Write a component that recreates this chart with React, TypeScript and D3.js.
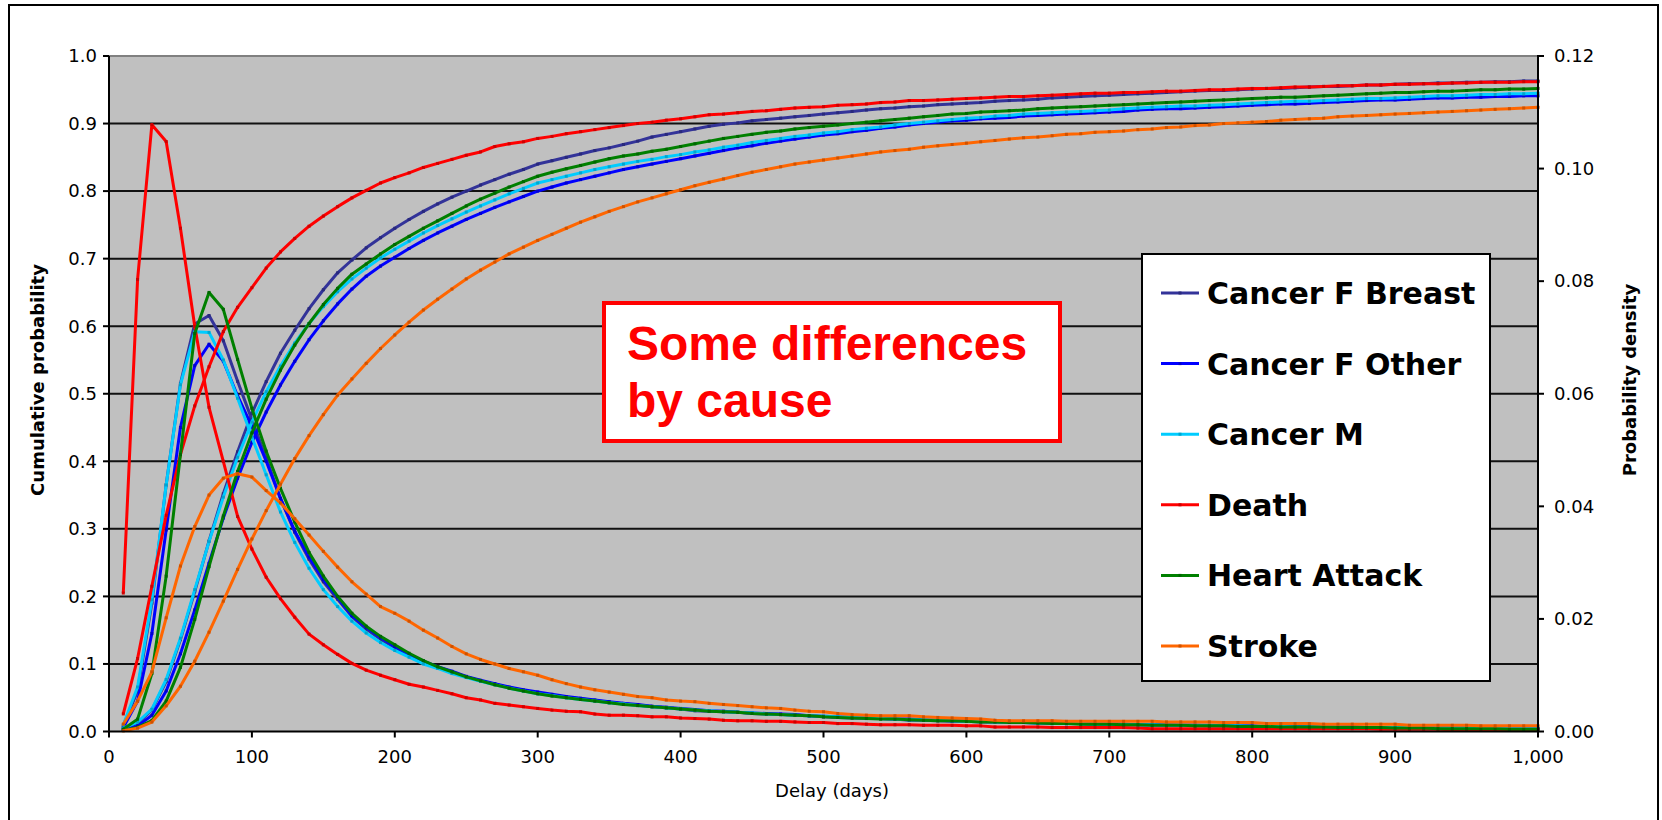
import React from 'react';
import * as d3 from 'd3';

const days = [
  10, 20, 30, 40, 50, 60, 70, 80, 90, 100,
  110, 120, 130, 140, 150, 160, 170, 180, 190, 200,
  210, 220, 230, 240, 250, 260, 270, 280, 290, 300,
  310, 320, 330, 340, 350, 360, 370, 380, 390, 400,
  410, 420, 430, 440, 450, 460, 470, 480, 490, 500,
  510, 520, 530, 540, 550, 560, 570, 580, 590, 600,
  610, 620, 630, 640, 650, 660, 670, 680, 690, 700,
  710, 720, 730, 740, 750, 760, 770, 780, 790, 800,
  810, 820, 830, 840, 850, 860, 870, 880, 890, 900,
  910, 920, 930, 940, 950, 960, 970, 980, 990, 1000,
];

const seriesNames = ['Cancer F Breast', 'Cancer F Other', 'Cancer M', 'Death', 'Heart Attack', 'Stroke'];
const seriesColors = ['#333399', '#0000FF', '#00CCFF', '#FF0000', '#008000', '#FF6600'];

const xTicks = [0, 100, 200, 300, 400, 500, 600, 700, 800, 900, 1000];
const leftTicks = [0, 0.1, 0.2, 0.3, 0.4, 0.5, 0.6, 0.7, 0.8, 0.9, 1.0];
const rightTicks = [0, 0.02, 0.04, 0.06, 0.08, 0.1, 0.12];

// Cumulative probability
const cumBreast = [
  0.004, 0.012, 0.032, 0.074, 0.136, 0.207, 0.282, 0.352, 0.414, 0.471,
  0.518, 0.560, 0.594, 0.626, 0.654, 0.679, 0.698, 0.716, 0.731, 0.745,
  0.758, 0.770, 0.781, 0.791, 0.800, 0.809, 0.817, 0.825, 0.832, 0.840,
  0.845, 0.850, 0.855, 0.860, 0.864, 0.869, 0.874, 0.880, 0.884, 0.888,
  0.892, 0.896, 0.899, 0.901, 0.904, 0.906, 0.908, 0.910, 0.912, 0.914,
  0.916, 0.918, 0.920, 0.922, 0.923, 0.925, 0.926, 0.928, 0.929, 0.930,
  0.931, 0.933, 0.934, 0.935, 0.936, 0.938, 0.939, 0.940, 0.941, 0.942,
  0.943, 0.944, 0.945, 0.946, 0.947, 0.948, 0.949, 0.949, 0.950, 0.951,
  0.952, 0.952, 0.953, 0.954, 0.955, 0.955, 0.956, 0.957, 0.957, 0.958,
  0.959, 0.959, 0.960, 0.960, 0.961, 0.961, 0.962, 0.962, 0.963, 0.963,
];
const cumOther = [
  0.003, 0.008, 0.024, 0.060, 0.115, 0.180, 0.249, 0.316, 0.375, 0.428,
  0.473, 0.513, 0.548, 0.580, 0.608, 0.633, 0.655, 0.674, 0.689, 0.702,
  0.715, 0.727, 0.738, 0.748, 0.758, 0.767, 0.776, 0.784, 0.792, 0.800,
  0.806, 0.812, 0.817, 0.822, 0.827, 0.832, 0.836, 0.840, 0.844, 0.848,
  0.852, 0.856, 0.860, 0.864, 0.867, 0.871, 0.874, 0.877, 0.880, 0.883,
  0.885, 0.888, 0.890, 0.893, 0.895, 0.898, 0.900, 0.902, 0.904, 0.905,
  0.907, 0.908, 0.909, 0.911, 0.912, 0.913, 0.914, 0.915, 0.916, 0.917,
  0.918, 0.920, 0.921, 0.922, 0.922, 0.923, 0.924, 0.925, 0.926, 0.927,
  0.928, 0.929, 0.929, 0.930, 0.931, 0.932, 0.933, 0.934, 0.935, 0.935,
  0.936, 0.937, 0.938, 0.938, 0.939, 0.939, 0.940, 0.940, 0.941, 0.941,
];
const cumM = [
  0.005, 0.014, 0.033, 0.077, 0.138, 0.210, 0.281, 0.347, 0.406, 0.458,
  0.503, 0.541, 0.575, 0.604, 0.629, 0.651, 0.670, 0.686, 0.701, 0.714,
  0.726, 0.738, 0.749, 0.759, 0.769, 0.778, 0.787, 0.796, 0.804, 0.812,
  0.817, 0.822, 0.827, 0.832, 0.836, 0.840, 0.844, 0.847, 0.851, 0.854,
  0.858, 0.861, 0.865, 0.868, 0.872, 0.875, 0.878, 0.881, 0.883, 0.886,
  0.888, 0.891, 0.893, 0.895, 0.898, 0.900, 0.902, 0.904, 0.906, 0.908,
  0.909, 0.911, 0.912, 0.914, 0.915, 0.916, 0.917, 0.918, 0.919, 0.920,
  0.922, 0.923, 0.924, 0.925, 0.926, 0.926, 0.927, 0.928, 0.929, 0.930,
  0.931, 0.932, 0.933, 0.933, 0.934, 0.935, 0.936, 0.937, 0.937, 0.938,
  0.939, 0.940, 0.941, 0.941, 0.942, 0.943, 0.943, 0.944, 0.944, 0.945,
];
const cumDeath = [
  0.026, 0.108, 0.215, 0.320, 0.410, 0.482, 0.540, 0.592, 0.628, 0.657,
  0.686, 0.710, 0.730, 0.748, 0.763, 0.777, 0.790, 0.801, 0.812, 0.820,
  0.827, 0.835, 0.841, 0.847, 0.853, 0.858, 0.866, 0.870, 0.873, 0.878,
  0.881, 0.885, 0.888, 0.891, 0.894, 0.897, 0.900, 0.902, 0.905, 0.907,
  0.910, 0.913, 0.914, 0.916, 0.918, 0.919, 0.921, 0.923, 0.924, 0.925,
  0.927, 0.928, 0.929, 0.931, 0.932, 0.934, 0.934, 0.935, 0.936, 0.937,
  0.938, 0.939, 0.940, 0.940, 0.941, 0.942, 0.943, 0.944, 0.945, 0.945,
  0.946, 0.946, 0.947, 0.948, 0.948, 0.949, 0.950, 0.950, 0.951, 0.952,
  0.952, 0.953, 0.954, 0.954, 0.955, 0.956, 0.956, 0.957, 0.957, 0.958,
  0.958, 0.959, 0.959, 0.960, 0.960, 0.961, 0.961, 0.961, 0.962, 0.962,
];
const cumHeart = [
  0.002, 0.006, 0.016, 0.045, 0.095, 0.166, 0.244, 0.319, 0.385, 0.442,
  0.492, 0.535, 0.572, 0.604, 0.632, 0.656, 0.677, 0.692, 0.707, 0.721,
  0.733, 0.745, 0.756, 0.767, 0.778, 0.788, 0.797, 0.806, 0.814, 0.822,
  0.828, 0.833, 0.838, 0.843, 0.848, 0.852, 0.855, 0.859, 0.862, 0.866,
  0.870, 0.874, 0.878, 0.881, 0.884, 0.887, 0.889, 0.892, 0.894, 0.896,
  0.898, 0.900, 0.902, 0.904, 0.906, 0.908, 0.910, 0.912, 0.914, 0.915,
  0.917, 0.918, 0.919, 0.920, 0.922, 0.923, 0.924, 0.925, 0.926, 0.927,
  0.928, 0.929, 0.930, 0.931, 0.932, 0.933, 0.934, 0.935, 0.936, 0.937,
  0.938, 0.939, 0.939, 0.940, 0.941, 0.942, 0.943, 0.944, 0.945, 0.946,
  0.946, 0.947, 0.948, 0.948, 0.949, 0.950, 0.950, 0.951, 0.951, 0.952,
];
const cumStroke = [
  0.001, 0.005, 0.014, 0.038, 0.067, 0.104, 0.147, 0.193, 0.240, 0.285,
  0.327, 0.366, 0.404, 0.438, 0.469, 0.498, 0.522, 0.545, 0.567, 0.587,
  0.606, 0.624, 0.640, 0.655, 0.670, 0.683, 0.695, 0.707, 0.717, 0.727,
  0.736, 0.745, 0.754, 0.762, 0.770, 0.777, 0.784, 0.790, 0.796, 0.802,
  0.808, 0.813, 0.818, 0.823, 0.828, 0.832, 0.836, 0.840, 0.843, 0.846,
  0.849, 0.852, 0.855, 0.858, 0.860, 0.862, 0.865, 0.867, 0.869, 0.871,
  0.873, 0.875, 0.877, 0.879, 0.880, 0.882, 0.884, 0.885, 0.887, 0.888,
  0.889, 0.891, 0.892, 0.894, 0.895, 0.897, 0.898, 0.900, 0.901, 0.902,
  0.903, 0.905, 0.906, 0.907, 0.908, 0.910, 0.911, 0.912, 0.913, 0.914,
  0.915, 0.916, 0.917, 0.918, 0.919, 0.920, 0.921, 0.922, 0.923, 0.924,
];

// Probability density (right axis)
const denBreast = [
  0.0010, 0.0072, 0.0228, 0.0438, 0.0618, 0.0724, 0.0739, 0.0694, 0.0622, 0.0554,
  0.0486, 0.0414, 0.0354, 0.0306, 0.0266, 0.0235, 0.0204, 0.0182, 0.0164, 0.0149,
  0.0136, 0.0124, 0.0114, 0.0106, 0.0097, 0.0090, 0.0084, 0.0078, 0.0073, 0.0068,
  0.0065, 0.0061, 0.0058, 0.0055, 0.0052, 0.0049, 0.0047, 0.0044, 0.0042, 0.0040,
  0.0037, 0.0036, 0.0035, 0.0034, 0.0032, 0.0031, 0.0030, 0.0029, 0.0028, 0.0026,
  0.0025, 0.0024, 0.0024, 0.0023, 0.0022, 0.0020, 0.0020, 0.0019, 0.0018, 0.0018,
  0.0017, 0.0017, 0.0016, 0.0016, 0.0016, 0.0014, 0.0014, 0.0014, 0.0013, 0.0013,
  0.0013, 0.0012, 0.0012, 0.0012, 0.0011, 0.0011, 0.0011, 0.0010, 0.0010, 0.0010,
  0.0009, 0.0009, 0.0009, 0.0008, 0.0008, 0.0008, 0.0008, 0.0007, 0.0007, 0.0007,
  0.0007, 0.0006, 0.0006, 0.0006, 0.0006, 0.0005, 0.0005, 0.0005, 0.0005, 0.0005,
];
const denOther = [
  0.0007, 0.0054, 0.0174, 0.0358, 0.0540, 0.0650, 0.0688, 0.0658, 0.0596, 0.0542,
  0.0480, 0.0414, 0.0356, 0.0310, 0.0270, 0.0238, 0.0206, 0.0185, 0.0167, 0.0151,
  0.0137, 0.0125, 0.0115, 0.0107, 0.0098, 0.0091, 0.0085, 0.0079, 0.0074, 0.0070,
  0.0066, 0.0062, 0.0059, 0.0056, 0.0053, 0.0050, 0.0048, 0.0045, 0.0043, 0.0041,
  0.0039, 0.0037, 0.0036, 0.0034, 0.0033, 0.0032, 0.0031, 0.0030, 0.0028, 0.0027,
  0.0026, 0.0025, 0.0024, 0.0023, 0.0022, 0.0022, 0.0021, 0.0020, 0.0019, 0.0019,
  0.0018, 0.0017, 0.0017, 0.0016, 0.0015, 0.0015, 0.0014, 0.0014, 0.0013, 0.0013,
  0.0013, 0.0012, 0.0012, 0.0011, 0.0011, 0.0011, 0.0010, 0.0010, 0.0010, 0.0009,
  0.0009, 0.0009, 0.0009, 0.0008, 0.0008, 0.0008, 0.0008, 0.0007, 0.0007, 0.0007,
  0.0007, 0.0006, 0.0006, 0.0006, 0.0006, 0.0005, 0.0005, 0.0005, 0.0005, 0.0005,
];
const denM = [
  0.0012, 0.0079, 0.0234, 0.0438, 0.0616, 0.0710, 0.0709, 0.0660, 0.0592, 0.0523,
  0.0456, 0.0390, 0.0336, 0.0290, 0.0252, 0.0222, 0.0196, 0.0175, 0.0158, 0.0144,
  0.0132, 0.0120, 0.0112, 0.0103, 0.0096, 0.0089, 0.0083, 0.0077, 0.0072, 0.0067,
  0.0064, 0.0060, 0.0057, 0.0054, 0.0051, 0.0049, 0.0046, 0.0044, 0.0042, 0.0040,
  0.0038, 0.0037, 0.0035, 0.0034, 0.0033, 0.0031, 0.0030, 0.0029, 0.0028, 0.0027,
  0.0026, 0.0025, 0.0024, 0.0023, 0.0022, 0.0021, 0.0021, 0.0020, 0.0019, 0.0018,
  0.0018, 0.0017, 0.0016, 0.0016, 0.0015, 0.0015, 0.0014, 0.0014, 0.0013, 0.0013,
  0.0012, 0.0012, 0.0012, 0.0011, 0.0011, 0.0010, 0.0010, 0.0010, 0.0010, 0.0009,
  0.0009, 0.0009, 0.0008, 0.0008, 0.0008, 0.0008, 0.0007, 0.0007, 0.0007, 0.0007,
  0.0007, 0.0006, 0.0006, 0.0006, 0.0006, 0.0005, 0.0005, 0.0005, 0.0005, 0.0005,
];
const denDeath = [
  0.0246, 0.0803, 0.1078, 0.1048, 0.0894, 0.0720, 0.0576, 0.0480, 0.0382, 0.0324,
  0.0274, 0.0236, 0.0203, 0.0173, 0.0154, 0.0137, 0.0121, 0.0109, 0.0100, 0.0092,
  0.0084, 0.0079, 0.0073, 0.0067, 0.0060, 0.0056, 0.0050, 0.0047, 0.0044, 0.0041,
  0.0038, 0.0036, 0.0035, 0.0031, 0.0029, 0.0029, 0.0028, 0.0026, 0.0026, 0.0024,
  0.0023, 0.0022, 0.0020, 0.0019, 0.0019, 0.0018, 0.0018, 0.0017, 0.0016, 0.0016,
  0.0014, 0.0014, 0.0013, 0.0012, 0.0012, 0.0012, 0.0011, 0.0011, 0.0011, 0.0010,
  0.0010, 0.0008, 0.0008, 0.0008, 0.0008, 0.0007, 0.0007, 0.0007, 0.0007, 0.0007,
  0.0007, 0.0006, 0.0005, 0.0005, 0.0005, 0.0005, 0.0005, 0.0005, 0.0005, 0.0005,
  0.0005, 0.0005, 0.0005, 0.0005, 0.0005, 0.0005, 0.0005, 0.0005, 0.0004, 0.0004,
  0.0004, 0.0004, 0.0004, 0.0003, 0.0003, 0.0003, 0.0003, 0.0003, 0.0003, 0.0003,
];
const denHeart = [
  0.0004, 0.0022, 0.0103, 0.0276, 0.0492, 0.0707, 0.0780, 0.0750, 0.0661, 0.0574,
  0.0498, 0.0432, 0.0372, 0.0318, 0.0276, 0.0240, 0.0210, 0.0187, 0.0169, 0.0154,
  0.0139, 0.0126, 0.0115, 0.0106, 0.0097, 0.0090, 0.0083, 0.0077, 0.0072, 0.0067,
  0.0063, 0.0060, 0.0057, 0.0054, 0.0051, 0.0048, 0.0046, 0.0044, 0.0042, 0.0040,
  0.0038, 0.0036, 0.0035, 0.0034, 0.0032, 0.0031, 0.0030, 0.0029, 0.0028, 0.0026,
  0.0025, 0.0024, 0.0023, 0.0022, 0.0022, 0.0021, 0.0020, 0.0019, 0.0019, 0.0018,
  0.0017, 0.0017, 0.0016, 0.0016, 0.0015, 0.0014, 0.0014, 0.0013, 0.0013, 0.0013,
  0.0012, 0.0012, 0.0011, 0.0011, 0.0011, 0.0010, 0.0010, 0.0010, 0.0009, 0.0009,
  0.0009, 0.0008, 0.0008, 0.0008, 0.0008, 0.0007, 0.0007, 0.0007, 0.0007, 0.0006,
  0.0006, 0.0006, 0.0005, 0.0005, 0.0005, 0.0005, 0.0005, 0.0004, 0.0004, 0.0004,
];
const denStroke = [
  0.0013, 0.0054, 0.0106, 0.0202, 0.0294, 0.0364, 0.0420, 0.0450, 0.0458, 0.0452,
  0.0428, 0.0406, 0.0378, 0.0349, 0.0320, 0.0292, 0.0266, 0.0244, 0.0222, 0.0210,
  0.0196, 0.0180, 0.0166, 0.0151, 0.0138, 0.0128, 0.0120, 0.0112, 0.0106, 0.0100,
  0.0092, 0.0085, 0.0079, 0.0074, 0.0070, 0.0066, 0.0062, 0.0060, 0.0056, 0.0054,
  0.0053, 0.0050, 0.0048, 0.0046, 0.0044, 0.0042, 0.0041, 0.0038, 0.0036, 0.0035,
  0.0032, 0.0030, 0.0029, 0.0028, 0.0028, 0.0028, 0.0026, 0.0025, 0.0024, 0.0023,
  0.0022, 0.0020, 0.0019, 0.0019, 0.0019, 0.0019, 0.0018, 0.0018, 0.0018, 0.0018,
  0.0018, 0.0018, 0.0018, 0.0017, 0.0017, 0.0017, 0.0017, 0.0016, 0.0016, 0.0016,
  0.0014, 0.0014, 0.0014, 0.0014, 0.0013, 0.0013, 0.0013, 0.0013, 0.0013, 0.0013,
  0.0011, 0.0011, 0.0011, 0.0011, 0.0011, 0.0010, 0.0010, 0.0010, 0.0010, 0.0010,
];

const cumData = [cumBreast, cumOther, cumM, cumDeath, cumHeart, cumStroke];
const denData = [denBreast, denOther, denM, denDeath, denHeart, denStroke];

const W = 1662;
const H = 820;
const PL = 109;
const PR = 1538;
const PT = 56;
const PB = 731.5;

const FONT = "Tahoma, 'DejaVu Sans', Verdana, sans-serif";

export default function App() {
  const x = d3.scaleLinear().domain([0, 1000]).range([PL, PR]);
  const yL = d3.scaleLinear().domain([0, 1]).range([PB, PT]);
  const yR = d3.scaleLinear().domain([0, 0.12]).range([PB, PT]);

  const lineL = d3.line<number>().x((_, i) => x(days[i])).y((d) => yL(d));
  const lineR = d3.line<number>().x((_, i) => x(days[i])).y((d) => yR(d));

  const fmtL = d3.format('.1f');
  const fmtR = d3.format('.2f');
  const fmtX = d3.format(',');

  const series = seriesNames.map((name, k) => ({
    name,
    color: seriesColors[k],
    cum: cumData[k],
    den: denData[k],
  }));

  const legendX = 1142;
  const legendY = 254;
  const legendW = 348;
  const legendH = 427;
  const rowY = (i: number) => 293 + i * 70.6;

  const marker = (cx: number, cy: number, color: string, key: string) => (
    <rect key={key} x={cx - 1.5} y={cy - 1.5} width={3} height={3} fill={d3.color(color)!.darker(0.6).toString()} />
  );

  return (
    <div style={{ position: 'absolute', left: 0, top: 0 }}>
      <svg width={W} height={H} style={{ display: 'block', background: '#fff' }}>
        {/* outer chart border */}
        <rect x={9} y={5} width={1649} height={830} fill="#fff" stroke="#000" strokeWidth={2} />

        {/* plot area */}
        <rect x={PL} y={PT} width={PR - PL} height={PB - PT} fill="#C0C0C0" />
        {leftTicks.filter((t) => t > 0 && t < 1).map((t) => (
          <line key={'g' + t} x1={PL} x2={PR} y1={yL(t)} y2={yL(t)} stroke="#111" strokeWidth={2} />
        ))}
        <line x1={PL} x2={PR} y1={PT} y2={PT} stroke="#808080" strokeWidth={2} />

        {/* series */}
        {series.map((s) => (
          <g key={s.name}>
            <path d={lineL(s.cum)!} fill="none" stroke={s.color} strokeWidth={3} strokeLinejoin="round" />
            <path d={lineR(s.den)!} fill="none" stroke={s.color} strokeWidth={3} strokeLinejoin="round" />
            {s.cum.map((v, i) => marker(x(days[i]), yL(v), s.color, 'c' + i))}
            {s.den.map((v, i) => marker(x(days[i]), yR(v), s.color, 'd' + i))}
          </g>
        ))}

        {/* axes */}
        <line x1={PL} x2={PL} y1={PT} y2={PB} stroke="#000" strokeWidth={2} />
        <line x1={PR} x2={PR} y1={PT - 1} y2={PB} stroke="#000" strokeWidth={2} />
        <line x1={PL} x2={PR} y1={PB} y2={PB} stroke="#000" strokeWidth={2} />

        {leftTicks.map((t) => (
          <g key={'lt' + t}>
            <line x1={PL - 6} x2={PL} y1={yL(t)} y2={yL(t)} stroke="#000" strokeWidth={2} />
            <text x={PL - 12} y={yL(t)} dy="0.35em" textAnchor="end" fontFamily={FONT} fontSize={18} fill="#000">
              {fmtL(t)}
            </text>
          </g>
        ))}
        {rightTicks.map((t) => (
          <g key={'rt' + t}>
            <line x1={PR} x2={PR + 6} y1={yR(t)} y2={yR(t)} stroke="#000" strokeWidth={2} />
            <text x={PR + 16} y={yR(t)} dy="0.35em" textAnchor="start" fontFamily={FONT} fontSize={18} fill="#000">
              {fmtR(t)}
            </text>
          </g>
        ))}
        {xTicks.map((t) => (
          <g key={'xt' + t}>
            <line x1={x(t)} x2={x(t)} y1={PB} y2={PB + 6} stroke="#000" strokeWidth={2} />
            <text x={x(t)} y={763} textAnchor="middle" fontFamily={FONT} fontSize={18} fill="#000">
              {fmtX(t)}
            </text>
          </g>
        ))}

        {/* axis titles */}
        <text
          transform={`translate(44,380) rotate(-90)`}
          textAnchor="middle"
          fontFamily={FONT}
          fontWeight="bold"
          fontSize={18}
          fill="#000"
        >
          Cumulative probability
        </text>
        <text
          transform={`translate(1636,380) rotate(-90)`}
          textAnchor="middle"
          fontFamily={FONT}
          fontWeight="bold"
          fontSize={18}
          fill="#000"
        >
          Probability density
        </text>
        <text x={832} y={797} textAnchor="middle" fontFamily={FONT} fontSize={18} fill="#000">
          Delay (days)
        </text>

        {/* annotation box */}
        <rect x={604} y={303} width={456} height={138} fill="#fff" stroke="#FF0000" strokeWidth={4} />
        <text x={627} y={360} fontFamily="'Liberation Sans', Arial, sans-serif" fontWeight="bold" fontSize={48} fill="#FF0000">
          Some differences
        </text>
        <text x={627} y={417} fontFamily="'Liberation Sans', Arial, sans-serif" fontWeight="bold" fontSize={48} fill="#FF0000">
          by cause
        </text>

        {/* legend */}
        <rect x={legendX} y={legendY} width={legendW} height={legendH} fill="#fff" stroke="#000" strokeWidth={2} />
        {series.map((s, i) => (
          <g key={'lg' + s.name}>
            <line x1={1161} x2={1199} y1={rowY(i)} y2={rowY(i)} stroke={s.color} strokeWidth={3} />
            {marker(1180, rowY(i), s.color, 'lm' + i)}
            <text x={1207} y={rowY(i) + 11} fontFamily={FONT} fontWeight="bold" fontSize={30} fill="#000">
              {s.name}
            </text>
          </g>
        ))}
      </svg>
    </div>
  );
}
